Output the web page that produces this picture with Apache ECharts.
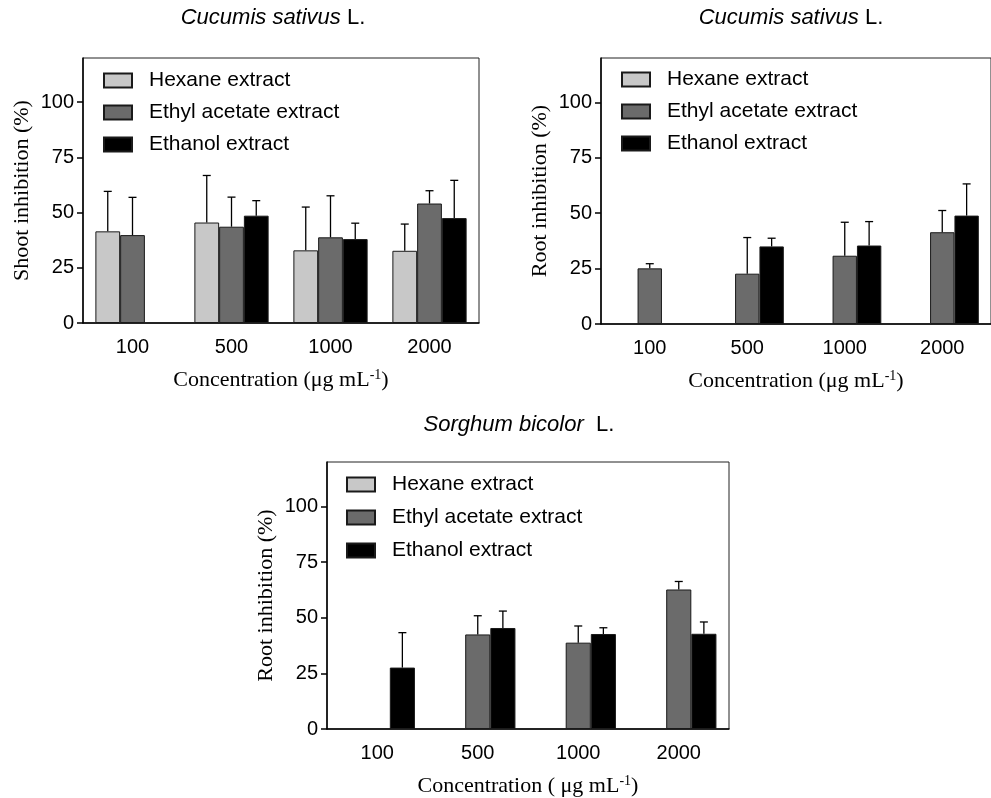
<!DOCTYPE html>
<html>
<head>
<meta charset="utf-8">
<script src="https://cdn.jsdelivr.net/npm/echarts@6/dist/echarts.min.js"></script>
<style>
  html, body { margin: 0; padding: 0; background: #fff; }
  #chart { width: 991px; height: 798px; }
</style>
</head>
<body>
<div id="chart"></div>
<script>
// categories + series names
var categories = ['100', '500', '1000', '2000'];
var seriesNames = ['Hexane extract', 'Ethyl acetate extract', 'Ethanol extract'];
var barColors = ['#c8c8c8', '#6b6b6b', '#000000'];

// panel 1 - Cucumis sativus, shoot
var cucShootHex = [41.5, 45.5, 32.9, 32.7];
var cucShootHexSd = [18.1, 21.3, 19.6, 12.1];
var cucShootEth = [39.8, 43.6, 38.8, 54.1];
var cucShootEthSd = [17.1, 13.4, 18.8, 5.8];
var cucShootEtoh = [null, 48.6, 38.0, 47.5];
var cucShootEtohSd = [null, 6.8, 7.2, 17.1];

// panel 2 - Cucumis sativus, root
var cucRootHex = [null, null, null, null];
var cucRootHexSd = [null, null, null, null];
var cucRootEth = [25.1, 22.7, 30.8, 41.4];
var cucRootEthSd = [2.1, 16.3, 15.1, 9.8];
var cucRootEtoh = [null, 35.0, 35.4, 48.9];
var cucRootEtohSd = [null, 3.7, 10.8, 14.3];

// panel 3 - Sorghum bicolor, root
var sorRootHex = [null, null, null, null];
var sorRootHexSd = [null, null, null, null];
var sorRootEth = [null, 42.5, 38.8, 62.7];
var sorRootEthSd = [null, 8.4, 7.5, 3.6];
var sorRootEtoh = [27.6, 45.4, 42.7, 42.8];
var sorRootEtohSd = [15.7, 7.6, 2.8, 5.3];

var yTicks = [0, 25, 50, 75, 100];

var panels = [
  { grid: { left: 83, top: 58, width: 396, height: 265 }, yName: 'Shoot inhibition (%)',
    xName: 'Concentration (μg mL{sup|-1})', legend: { left: 103, top: 70, gap: 11 },
    means: [cucShootHex, cucShootEth, cucShootEtoh], sds: [cucShootHexSd, cucShootEthSd, cucShootEtohSd] },
  { grid: { left: 601, top: 58, width: 396, height: 266 }, yName: 'Root inhibition (%)',
    xName: 'Concentration (μg mL{sup|-1})', legend: { left: 621, top: 69, gap: 11 },
    means: [cucRootHex, cucRootEth, cucRootEtoh], sds: [cucRootHexSd, cucRootEthSd, cucRootEtohSd] },
  { grid: { left: 327, top: 462, width: 402, height: 269 }, yName: 'Root inhibition (%)',
    xName: 'Concentration ( μg mL{sup|-1})', legend: { left: 346, top: 474, gap: 12 },
    means: [sorRootHex, sorRootEth, sorRootEtoh], sds: [sorRootHexSd, sorRootEthSd, sorRootEtohSd] }
];

var sans = 'Liberation Sans, Arial, sans-serif';
var serif = 'Liberation Serif, Times New Roman, serif';

function errRender(slot) {
  return function (params, api) {
    var idx = api.value(0);
    var mean = api.value(1);
    var sd = api.value(2);
    var band = api.size([1, 0])[0];
    var p0 = api.coord([idx, mean]);
    var p1 = api.coord([idx, mean + sd]);
    var cx = p0[0] + (slot - 1) * band * 0.25;
    var st = { stroke: '#000', lineWidth: 1.3 };
    return {
      type: 'group',
      children: [
        { type: 'line', shape: { x1: cx, y1: p0[1], x2: cx, y2: p1[1] }, style: st },
        { type: 'line', shape: { x1: cx - 4, y1: p1[1], x2: cx + 4, y2: p1[1] }, style: st }
      ]
    };
  };
}

var grids = [], xAxes = [], yAxes = [], legends = [], series = [];
panels.forEach(function (p, gi) {
  grids.push(Object.assign({ show: true, borderColor: '#222', borderWidth: 1, backgroundColor: 'transparent' }, p.grid));
  xAxes.push({
    type: 'category', gridIndex: gi, data: categories,
    axisLine: { lineStyle: { color: '#000', width: 1.5 } },
    axisTick: { alignWithLabel: true, length: 6, lineStyle: { color: '#000', width: 1.5 } },
    axisLabel: { color: '#000', fontSize: 20, fontFamily: sans, margin: 14 },
    name: p.xName, nameLocation: 'middle', nameGap: 45,
    nameTextStyle: { color: '#000', fontSize: 22, fontFamily: serif,
      rich: { sup: { fontSize: 14, fontFamily: serif, color: '#000', verticalAlign: 'top', padding: [0, 0, 10, 0] } } }
  });
  yAxes.push({
    type: 'value', gridIndex: gi, min: 0, max: 120, interval: 25,
    splitLine: { show: false },
    axisLine: { show: true, lineStyle: { color: '#000', width: 1.5 } },
    axisTick: { show: true, length: 6, customValues: yTicks, lineStyle: { color: '#000', width: 1.5 } },
    axisLabel: { color: '#000', fontSize: 20, fontFamily: sans, margin: 9, customValues: yTicks },
    name: p.yName, nameLocation: 'middle', nameGap: 50,
    nameTextStyle: { color: '#000', fontSize: 22, fontFamily: serif }
  });
  legends.push({
    left: p.legend.left, top: p.legend.top, orient: 'vertical', padding: 0,
    itemWidth: 28, itemHeight: 14, itemGap: p.legend.gap, selectedMode: false, icon: 'rect',
    data: seriesNames,
    textStyle: { color: '#000', fontSize: 21, fontFamily: sans, padding: [0, 0, 0, 12] }
  });
  seriesNames.forEach(function (name, si) {
    series.push({
      name: name, type: 'bar', xAxisIndex: gi, yAxisIndex: gi,
      barWidth: '25%', barGap: '0%',
      itemStyle: { color: barColors[si], borderColor: '#1a1a1a', borderWidth: 1 },
      data: p.means[si]
    });
  });
  seriesNames.forEach(function (name, si) {
    var d = [];
    p.means[si].forEach(function (m, ci) {
      if (m != null && p.sds[si][ci] != null) d.push([ci, m, p.sds[si][ci]]);
    });
    series.push({
      name: 'err' + gi + '_' + si, type: 'custom', xAxisIndex: gi, yAxisIndex: gi,
      renderItem: errRender(si), data: d, z: 3, silent: true
    });
  });
});

var titleStyle = function (txt, x, y) {
  return {
    type: 'text', x: x, y: y,
    style: {
      text: txt, align: 'center', verticalAlign: 'middle',
      fontSize: 22, fontFamily: sans, fill: '#000',
      rich: { i: { fontStyle: 'italic', fontSize: 22, fontFamily: sans, fill: '#000' } }
    }
  };
};

var chart = echarts.init(document.getElementById('chart'));
chart.setOption({
  animation: false,
  backgroundColor: '#fff',
  grid: grids,
  xAxis: xAxes,
  yAxis: yAxes,
  legend: legends,
  graphic: [
    titleStyle('{i|Cucumis sativus} L.', 273, 18),
    titleStyle('{i|Cucumis sativus} L.', 791, 18),
    titleStyle('{i|Sorghum bicolor}  L.', 519, 425)
  ],
  series: series
});
</script>
</body>
</html>
